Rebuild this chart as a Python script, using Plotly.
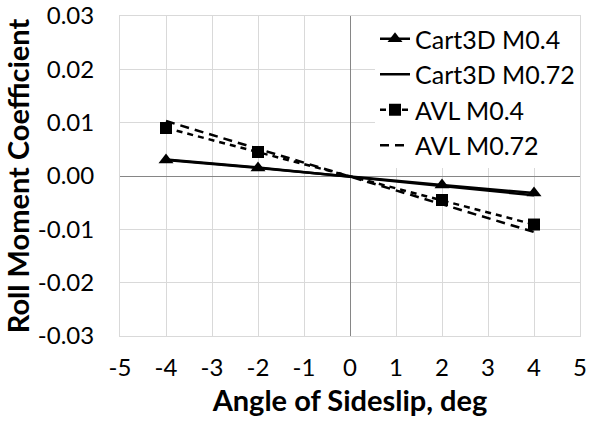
import plotly.graph_objects as go

beta = [-4, -2, 2, 4]
cart3d_m04 = [0.0030, 0.0015, -0.0017, -0.0032]
cart3d_m072 = [0.0031, 0.0016, -0.0019, -0.0036]
avl_m04 = [0.0090, 0.0045, -0.0045, -0.0091]
avl_m072 = [0.0103, 0.0051, -0.0052, -0.0105]

x_ticks = [-5, -4, -3, -2, -1, 0, 1, 2, 3, 4, 5]
x_labels = ["-5", "-4", "-3", "-2", "-1", "0", "1", "2", "3", "4", "5"]
y_ticks = [0.03, 0.02, 0.01, 0.0, -0.01, -0.02, -0.03]
y_labels = ["0.03", "0.02", "0.01", "0.00", "-0.01", "-0.02", "-0.03"]

font = "Lato, 'Open Sans', sans-serif"

fig = go.Figure()
fig.add_trace(go.Scatter(x=beta, y=cart3d_m04, name="Cart3D M0.4", mode="lines+markers",
                         line=dict(color="black", width=2.5),
                         marker=dict(symbol="triangle-up", size=13, color="black")))
fig.add_trace(go.Scatter(x=beta, y=cart3d_m072, name="Cart3D M0.72", mode="lines",
                         line=dict(color="black", width=2.5)))
fig.add_trace(go.Scatter(x=beta, y=avl_m04, name="AVL M0.4", mode="lines+markers",
                         line=dict(color="black", width=2.5, dash="6px,5px"),
                         marker=dict(symbol="square", size=12, color="black")))
fig.add_trace(go.Scatter(x=beta, y=avl_m072, name="AVL M0.72", mode="lines",
                         line=dict(color="black", width=2.5, dash="9px,6px")))

fig.update_xaxes(range=[-5, 5], tickvals=x_ticks, ticktext=x_labels, showgrid=True,
                 gridcolor="#d9d9d9", zeroline=True, zerolinecolor="#868686", zerolinewidth=1,
                 showline=True, linecolor="#d9d9d9", mirror=True, ticks="",
                 ticklabelstandoff=10, automargin=False,
                 tickfont=dict(size=24, color="black", family=font),
                 title=dict(text="<b>Angle of Sideslip, deg</b>", standoff=10,
                            font=dict(size=29, color="black", family=font)))
fig.update_yaxes(range=[-0.03, 0.03], tickvals=y_ticks, ticktext=y_labels, showgrid=True,
                 gridcolor="#d9d9d9", zeroline=True, zerolinecolor="#868686", zerolinewidth=1,
                 showline=True, linecolor="#d9d9d9", mirror=True, ticks="",
                 ticklabelstandoff=20, automargin=False,
                 tickfont=dict(size=24, color="black", family=font),
                 title=dict(text="<b>Roll Moment Coefficient</b>", standoff=6,
                            font=dict(size=29, color="black", family=font)))

fig.update_layout(
    width=593, height=426,
    margin=dict(l=120, r=13, t=16, b=90, autoexpand=False),
    plot_bgcolor="white", paper_bgcolor="white",
    font=dict(family=font, color="black"),
    legend=dict(x=1, xanchor="right", y=1, yanchor="top", bgcolor="white",
                font=dict(size=25, color="black", family=font),
                itemwidth=30, tracegroupgap=0),
)

# drop the browser's default body margin so the figure sits at the page corner
fig.write_html("out.html", config={"displayModeBar": False},
               post_script="document.body.style.margin='0';")
